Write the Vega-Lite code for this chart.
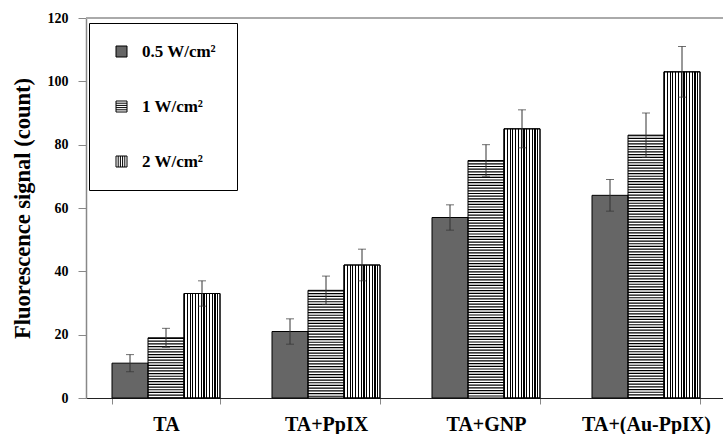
{
  "$schema": "https://vega.github.io/schema/vega-lite/v6.json",
  "width": 640,
  "height": 380,
  "autosize": {"type": "none"},
  "padding": {"left": 86, "top": 18, "right": 0, "bottom": 36},
  "background": "white",
  "config": {
    "view": {"stroke": null},
    "font": "Liberation Serif",
    "axisY": {
      "grid": false,
      "domainColor": "#888", "domainWidth": 1.5, "tickColor": "#888", "tickSize": 8,
      "labelFont": "Liberation Serif", "labelFontWeight": "bold", "labelFontSize": 14, "labelColor": "#000", "labelPadding": 10,
      "titleFont": "Liberation Serif", "titleFontWeight": "bold", "titleFontSize": 22.5, "titleColor": "#000", "titlePadding": 13
    }
  },
  "data": {"values": [
    {"group": "TA", "series": "0.5 W/cm²", "value": 11, "lo": 8.3, "hi": 13.7},
    {"group": "TA", "series": "1 W/cm²", "value": 19, "lo": 16, "hi": 22},
    {"group": "TA", "series": "2 W/cm²", "value": 33, "lo": 29, "hi": 37},
    {"group": "TA+PpIX", "series": "0.5 W/cm²", "value": 21, "lo": 17, "hi": 25},
    {"group": "TA+PpIX", "series": "1 W/cm²", "value": 34, "lo": 29.5, "hi": 38.5},
    {"group": "TA+PpIX", "series": "2 W/cm²", "value": 42, "lo": 37, "hi": 47},
    {"group": "TA+GNP", "series": "0.5 W/cm²", "value": 57, "lo": 53, "hi": 61},
    {"group": "TA+GNP", "series": "1 W/cm²", "value": 75, "lo": 70, "hi": 80},
    {"group": "TA+GNP", "series": "2 W/cm²", "value": 85, "lo": 79, "hi": 91},
    {"group": "TA+(Au-PpIX)", "series": "0.5 W/cm²", "value": 64, "lo": 59, "hi": 69},
    {"group": "TA+(Au-PpIX)", "series": "1 W/cm²", "value": 83, "lo": 76, "hi": 90},
    {"group": "TA+(Au-PpIX)", "series": "2 W/cm²", "value": 103, "lo": 95, "hi": 111}
  ]},
  "encoding": {
    "x": {
      "field": "group", "type": "nominal",
      "sort": ["TA", "TA+PpIX", "TA+GNP", "TA+(Au-PpIX)"],
      "scale": {"paddingInner": 0.325, "paddingOuter": 0.1625},
      "axis": {
        "title": null, "labelAngle": 0, "tickBand": "extent", "tickSize": 6,
        "tickColor": "#888", "domainColor": "#222", "domainWidth": 1.2,
        "labelFont": "Liberation Serif", "labelFontWeight": "bold", "labelFontSize": 20,
        "labelColor": "#000", "labelPadding": 10
      }
    },
    "xOffset": {
      "field": "series", "type": "nominal",
      "sort": ["0.5 W/cm²", "1 W/cm²", "2 W/cm²"],
      "scale": {"paddingInner": 0, "paddingOuter": 0}
    }
  },
  "layer": [
    {
      "transform": [{"filter": "datum.series === '2 W/cm²'"}],
      "mark": {
        "type": "bar", "stroke": "#000", "strokeWidth": 1,
        "fill": {
          "gradient": "linear", "x1": 0, "y1": 0, "x2": 1, "y2": 0,
          "stops": [
            {"offset": 0, "color": "#000"}, {"offset": 0.032, "color": "#000"}, {"offset": 0.032, "color": "#fff"}, {"offset": 0.0769, "color": "#fff"},
            {"offset": 0.0769, "color": "#000"}, {"offset": 0.1089, "color": "#000"}, {"offset": 0.1089, "color": "#fff"}, {"offset": 0.1538, "color": "#fff"},
            {"offset": 0.1538, "color": "#000"}, {"offset": 0.1858, "color": "#000"}, {"offset": 0.1858, "color": "#fff"}, {"offset": 0.2308, "color": "#fff"},
            {"offset": 0.2308, "color": "#000"}, {"offset": 0.2628, "color": "#000"}, {"offset": 0.2628, "color": "#fff"}, {"offset": 0.3077, "color": "#fff"},
            {"offset": 0.3077, "color": "#000"}, {"offset": 0.3397, "color": "#000"}, {"offset": 0.3397, "color": "#fff"}, {"offset": 0.3846, "color": "#fff"},
            {"offset": 0.3846, "color": "#000"}, {"offset": 0.4166, "color": "#000"}, {"offset": 0.4166, "color": "#fff"}, {"offset": 0.4615, "color": "#fff"},
            {"offset": 0.4615, "color": "#000"}, {"offset": 0.4935, "color": "#000"}, {"offset": 0.4935, "color": "#fff"}, {"offset": 0.5385, "color": "#fff"},
            {"offset": 0.5385, "color": "#000"}, {"offset": 0.5705, "color": "#000"}, {"offset": 0.5705, "color": "#fff"}, {"offset": 0.6154, "color": "#fff"},
            {"offset": 0.6154, "color": "#000"}, {"offset": 0.6474, "color": "#000"}, {"offset": 0.6474, "color": "#fff"}, {"offset": 0.6923, "color": "#fff"},
            {"offset": 0.6923, "color": "#000"}, {"offset": 0.7243, "color": "#000"}, {"offset": 0.7243, "color": "#fff"}, {"offset": 0.7692, "color": "#fff"},
            {"offset": 0.7692, "color": "#000"}, {"offset": 0.8012, "color": "#000"}, {"offset": 0.8012, "color": "#fff"}, {"offset": 0.8462, "color": "#fff"},
            {"offset": 0.8462, "color": "#000"}, {"offset": 0.8782, "color": "#000"}, {"offset": 0.8782, "color": "#fff"}, {"offset": 0.9231, "color": "#fff"},
            {"offset": 0.9231, "color": "#000"}, {"offset": 0.9551, "color": "#000"}, {"offset": 0.9551, "color": "#fff"}, {"offset": 1, "color": "#fff"}
          ]
        }
      },
      "encoding": {
        "y": {
          "field": "value", "type": "quantitative", "scale": {"domain": [0, 120], "nice": false},
          "title": "Fluorescence signal (count)",
          "axis": {"values": [0, 20, 40, 60, 80, 100, 120]}
        }
      }
    },
    {
      "transform": [{"filter": "datum.series === '1 W/cm²'"}],
      "mark": {"type": "rule", "color": "#000", "strokeWidth": 36, "strokeDash": [1.2, 1.5], "strokeCap": "butt"},
      "encoding": {
        "y": {"field": "value", "type": "quantitative", "title": "Fluorescence signal (count)", "axis": {"values": [0, 20, 40, 60, 80, 100, 120]}},
        "y2": {"datum": 0}
      }
    },
    {
      "mark": {"type": "bar", "stroke": "#000", "strokeWidth": 1},
      "encoding": {
        "y": {"field": "value", "type": "quantitative", "title": "Fluorescence signal (count)", "axis": {"values": [0, 20, 40, 60, 80, 100, 120]}},
        "fill": {
          "field": "series", "type": "nominal",
          "sort": ["0.5 W/cm²", "1 W/cm²", "2 W/cm²"],
          "scale": {"domain": ["0.5 W/cm²", "1 W/cm²", "2 W/cm²"], "range": ["#666666", "transparent", "transparent"]},
          "legend": {
            "title": null, "orient": "none", "legendX": 3, "legendY": 5,
            "strokeColor": "#000", "fillColor": "#fff", "padding": 20,
            "rowPadding": 37, "symbolOffset": 4, "labelOffset": 12, "symbolSize": 121,
            "symbolStrokeColor": "#000", "symbolStrokeWidth": 1,
            "labelFont": "Liberation Serif", "labelFontWeight": "bold", "labelFontSize": 17, "labelColor": "#000",
            "encode": {
              "symbols": {
                "update": {
                  "shape": {"signal": "datum.value === '1 W/cm²' ? 'M-1,-1H1V1H-1Z M-1,-0.6H1 M-1,-0.2H1 M-1,0.2H1 M-1,0.6H1' : datum.value === '2 W/cm²' ? 'M-1,-1H1V1H-1Z M-0.6,-1V1 M-0.2,-1V1 M0.2,-1V1 M0.6,-1V1' : 'square'"},
                  "stroke": {"value": "#000"},
                  "strokeWidth": {"value": 1}
                }
              }
            }
          }
        }
      }
    },
    {
      "mark": {"type": "rule", "color": "#333", "strokeWidth": 1},
      "encoding": {
        "y": {"field": "lo", "type": "quantitative", "title": "Fluorescence signal (count)", "axis": {"values": [0, 20, 40, 60, 80, 100, 120]}},
        "y2": {"field": "hi"}
      }
    },
    {
      "mark": {"type": "tick", "color": "#333", "size": 8, "thickness": 1},
      "encoding": {"y": {"field": "hi", "type": "quantitative", "title": "Fluorescence signal (count)", "axis": {"values": [0, 20, 40, 60, 80, 100, 120]}}}
    },
    {
      "mark": {"type": "tick", "color": "#333", "size": 8, "thickness": 1},
      "encoding": {"y": {"field": "lo", "type": "quantitative", "title": "Fluorescence signal (count)", "axis": {"values": [0, 20, 40, 60, 80, 100, 120]}}}
    },
    {
      "data": {"values": [{"top": 120}]},
      "mark": {"type": "rule", "color": "#aaa", "strokeWidth": 2},
      "encoding": {
        "x": null, "xOffset": null,
        "y": {"field": "top", "type": "quantitative", "title": "Fluorescence signal (count)", "axis": {"values": [0, 20, 40, 60, 80, 100, 120]}}
      }
    }
  ]
}
